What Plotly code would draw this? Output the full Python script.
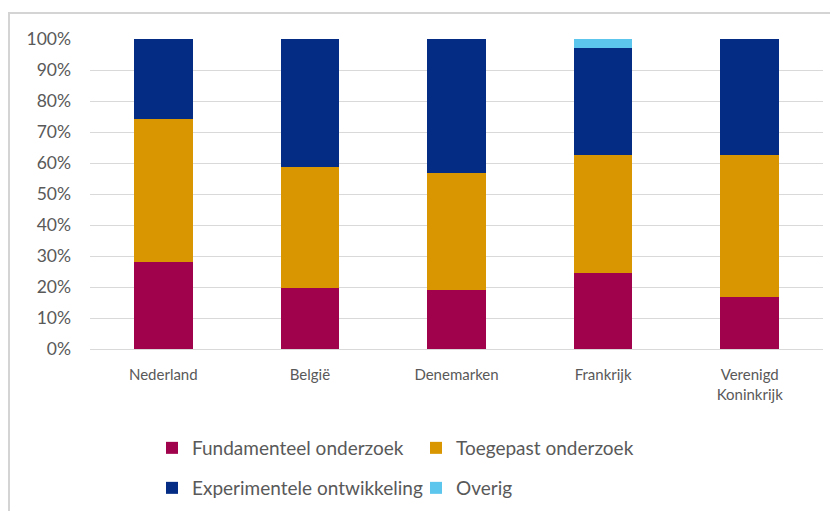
import plotly.graph_objects as go

categories = ["Nederland", "België", "Denemarken", "Frankrijk", "Verenigd<br>Koninkrijk"]
fundamenteel = [0.282, 0.198, 0.190, 0.245, 0.169]
toegepast = [0.460, 0.390, 0.379, 0.380, 0.457]
experimenteel = [0.258, 0.412, 0.431, 0.345, 0.374]
overig = [0.0, 0.0, 0.0, 0.030, 0.0]
y_ticks = [0, 0.1, 0.2, 0.3, 0.4, 0.5, 0.6, 0.7, 0.8, 0.9, 1.0]
y_tick_labels = ["0%", "10%", "20%", "30%", "40%", "50%", "60%", "70%", "80%", "90%", "100%"]

W, H = 838, 511
OFF = 8  # page body margin
L, R, T, B = 90 - OFF, 15 + OFF, 39 - OFF, 162 + OFF
font_family = "Lato, Open Sans, sans-serif"
text_color = "#595959"

fig = go.Figure()
series = [
    ("Fundamenteel onderzoek", fundamenteel, "#A0024B", "legend"),
    ("Toegepast onderzoek", toegepast, "#D99600", "legend"),
    ("Experimentele ontwikkeling", experimenteel, "#042C85", "legend2"),
    ("Overig", overig, "#5CC6EC", "legend2"),
]
for name, vals, col, leg in series:
    fig.add_trace(go.Bar(x=categories, y=vals, name=name, marker=dict(color=col, line=dict(width=0)),
                         legend=leg))

PW, PH = W - L - R, H - T - B
px2x = lambda px: (px - OFF - L) / PW          # screen px -> paper x
px2y = lambda py: (H - B - (py - OFF)) / PH    # screen px -> paper y

leg_common = dict(orientation="h", x=px2x(152), xanchor="left", yanchor="middle",
                  entrywidth=219, entrywidthmode="pixels",
                  font=dict(size=19, color=text_color), traceorder="normal", itemclick=False)
fig.update_layout(
    width=W, height=H,
    margin=dict(l=L, r=R, t=T, b=B, autoexpand=False),
    barmode="stack", bargap=0.6,
    plot_bgcolor="white", paper_bgcolor="white",
    font=dict(family=font_family, color=text_color, size=15),
    legend=dict(leg_common, y=px2y(448)),
    legend2=dict(leg_common, y=px2y(488)),
    xaxis=dict(showgrid=False, showline=True, linecolor="#d9d9d9", linewidth=1,
               ticks="", tickfont=dict(size=15, color=text_color), ticklabelstandoff=12),
    yaxis=dict(range=[0, 1], tickvals=y_ticks, ticktext=y_tick_labels,
               showgrid=True, gridcolor="#d9d9d9", gridwidth=1, zeroline=False,
               ticks="", tickfont=dict(size=17.5, color=text_color), ticklabelstandoff=18),
)

# chart frame (top and left border)
fig.add_shape(type="line", xref="paper", yref="paper", x0=px2x(7), x1=px2x(846), y0=px2y(13), y1=px2y(13),
              line=dict(color="#d4d4d4", width=2))
fig.add_shape(type="line", xref="paper", yref="paper", x0=px2x(9), x1=px2x(9), y0=px2y(13), y1=px2y(520),
              line=dict(color="#d4d4d4", width=2))

fig.write_html("out.html")
